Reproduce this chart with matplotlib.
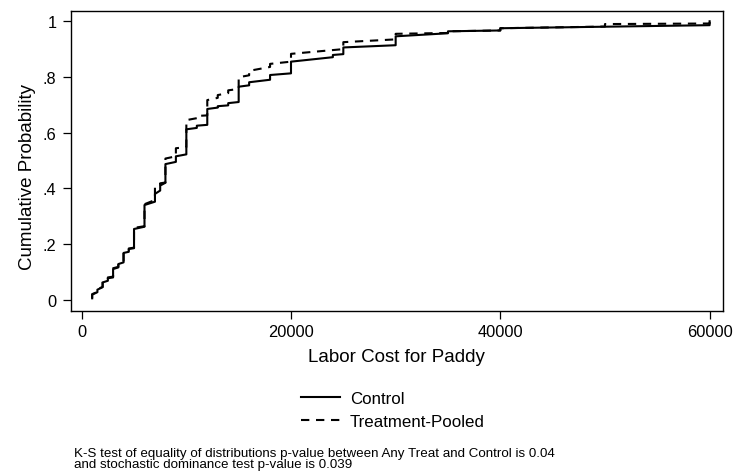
import numpy as np
import matplotlib
matplotlib.use('Agg')
import matplotlib.pyplot as plt

plt.rcParams['font.family'] = ['Liberation Sans', 'DejaVu Sans']

# Punti della CDF (salti verticali = due punti con stessa x)
ctrl_x = [1000, 1000, 1500, 1500, 2000, 2000, 2500, 2500, 3000, 3000, 3500, 3500,
          4000, 4000, 4500, 4500, 5000, 5000, 6000, 6000, 7000, 7000, 7500, 7500,
          8000, 8000, 9000, 9000, 10000, 10000, 11000, 11000, 12000, 12000, 13000, 13000,
          14000, 14000, 15000, 15000, 16000, 16000, 18000, 18000, 20000, 20000,
          24000, 24000, 25000, 25000, 30000, 30000, 35000, 35000, 40000, 40000, 60000, 60000]
ctrl_p = [0.005, 0.018, 0.027, 0.036, 0.045, 0.062, 0.068, 0.077, 0.080, 0.110, 0.116, 0.128,
          0.134, 0.168, 0.172, 0.182, 0.185, 0.254, 0.262, 0.340, 0.352, 0.380, 0.392, 0.410,
          0.420, 0.487, 0.495, 0.515, 0.522, 0.612, 0.617, 0.625, 0.628, 0.685, 0.690, 0.695,
          0.698, 0.706, 0.710, 0.765, 0.770, 0.781, 0.790, 0.807, 0.813, 0.855,
          0.871, 0.879, 0.882, 0.906, 0.914, 0.946, 0.957, 0.964, 0.967, 0.975, 0.986, 1.0]

trt_x = [1000, 1000, 1500, 1500, 2000, 2000, 2500, 2500, 3000, 3000, 3500, 3500,
         4000, 4000, 4500, 4500, 5000, 5000, 6000, 6000, 7000, 7000, 7500, 7500,
         8000, 8000, 9000, 9000, 10000, 10000, 11000, 11000, 12000, 12000, 13000, 13000,
         14000, 14000, 15000, 15000, 16000, 16000, 18000, 18000, 20000, 20000,
         25000, 25000, 30000, 30000, 35000, 35000, 40000, 40000, 50000, 50000, 60000, 60000]
trt_p = [0.005, 0.020, 0.028, 0.038, 0.046, 0.064, 0.070, 0.080, 0.083, 0.113, 0.118, 0.130,
         0.136, 0.170, 0.174, 0.184, 0.187, 0.258, 0.264, 0.343, 0.358, 0.410, 0.413, 0.418,
         0.421, 0.507, 0.515, 0.544, 0.548, 0.645, 0.652, 0.660, 0.662, 0.717, 0.725, 0.735,
         0.742, 0.752, 0.757, 0.799, 0.806, 0.822, 0.836, 0.847, 0.855, 0.883,
         0.900, 0.925, 0.935, 0.955, 0.958, 0.964, 0.967, 0.975, 0.981, 0.990, 0.992, 1.0]

y_ticks = [0, 0.2, 0.4, 0.6, 0.8, 1.0]
y_labels = ['0', '.2', '.4', '.6', '.8', '1']
x_ticks = [0, 20000, 40000, 60000]

nota = ('K-S test of equality of distributions p-value between Any Treat and Control is 0.04\n'
        'and stochastic dominance test p-value is 0.039')

fig, ax = plt.subplots(figsize=(7.36, 4.77), dpi=100)
fig.subplots_adjust(left=71/736, right=722.7/736, top=1-11.7/477, bottom=1-311.7/477)

ax.plot(ctrl_x, ctrl_p, color='black', linewidth=1.5, label='Control')
ax.plot(trt_x, trt_p, color='black', linewidth=1.5, linestyle=(0, (4.0, 3.2)), label='Treatment-Pooled')

ax.set_xlim(-1022, 61250)
ax.set_ylim(-0.0395, 1.038)
ax.set_xticks(x_ticks)
ax.set_xticklabels([str(v) for v in x_ticks])
ax.set_yticks(y_ticks)
ax.set_yticklabels(y_labels)
ax.tick_params(axis='both', labelsize=11.8, length=6, width=0.9, color='black')
ax.tick_params(axis='x', pad=3.5)
ax.tick_params(axis='y', pad=4.5)
for s in ax.spines.values():
    s.set_linewidth(1.0)

ax.set_xlabel('Labor Cost for Paddy', fontsize=13.5)
ax.xaxis.set_label_coords(0.5, -0.124)
ax.set_ylabel('Cumulative Probability', fontsize=13.5)
ax.yaxis.set_label_coords(-0.053, 0.449)

ax.legend(loc='center', bbox_to_anchor=(393/736, 1-410.9/477), bbox_transform=fig.transFigure,
          frameon=False, fontsize=12.2, handlelength=2.3, handletextpad=0.55,
          labelspacing=0.45, borderpad=0)

# nota in basso (due righe ravvicinate come nell'originale)
fig.text(74/736, 1-459.5/477, nota, fontsize=9.6, va='center', ha='left', linespacing=0.8)

fig.savefig('out.png', dpi=100)
